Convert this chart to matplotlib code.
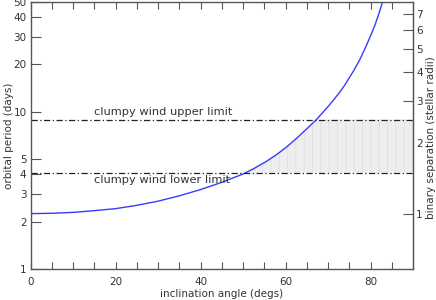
import numpy as np
import matplotlib
matplotlib.use("Agg")
import matplotlib.pyplot as plt
from matplotlib.ticker import FixedLocator, NullLocator, NullFormatter, FixedFormatter

# curve: inclination (deg) vs orbital period (days)
incl = [0, 5, 10, 15, 20, 25, 30, 35, 40, 45, 50, 52.5, 55, 57.5, 60, 62.5, 65,
        67.3, 70, 71.5, 72.8, 74, 75, 76.1, 77.5, 78.75, 80, 81, 82, 82.7, 83.2]
period = [2.25, 2.26, 2.29, 2.35, 2.42, 2.54, 2.70, 2.92, 3.20, 3.56, 4.02, 4.35,
          4.75, 5.25, 5.9, 6.75, 7.8, 8.95, 10.8, 12.1, 13.4, 14.9, 16.5, 18.4,
          21.6, 25.5, 30.5, 35.5, 42.5, 49.0, 54.5]

lower_limit = 4.1
upper_limit = 8.9
p0 = 2.25   # period at which separation = 1 stellar radius

left_ticks = [1, 2, 3, 4, 5, 10, 20, 30, 40, 50]
right_ticks = [1, 2, 3, 4, 5, 6, 7]

ink = "#333333"
plt.rcParams["font.family"] = ["DejaVu Sans"]
plt.rcParams["font.size"] = 7.5
plt.rcParams["hatch.linewidth"] = 0.6

fig = plt.figure(figsize=(4.36, 3.0), dpi=100)
ax = fig.add_axes([0.0704, 0.1033, 0.8773, 0.891])

incl = np.array(incl)
period = np.array(period)

# shaded region right of the curve, between the two limits
fx = np.append(incl, 90)
fy = np.append(np.minimum(period, upper_limit), upper_limit)
ax.fill_between(fx, lower_limit, fy, where=np.append(period, upper_limit) >= lower_limit,
                interpolate=True, facecolor="#eeeeee", edgecolor="#e0e0e0",
                hatch="||", linewidth=0)

ax.plot(incl, period, color="#3a3aff", lw=1.0)
ax.axhline(upper_limit, color="#222222", lw=0.9, ls=(0, (5, 2, 1, 2)))
ax.axhline(lower_limit, color="#222222", lw=0.9, ls=(0, (5, 2, 1, 2)))

ax.text(14.9, upper_limit * 1.04, "clumpy wind upper limit", color=ink,
        fontsize=8.2, va="bottom", ha="left")
ax.text(14.9, lower_limit / 1.04, "clumpy wind lower limit", color=ink,
        fontsize=8.2, va="top", ha="left")

ax.set_xlim(0, 90)
ax.set_yscale("log")
ax.set_ylim(1, 50)

ax.xaxis.set_major_locator(FixedLocator([0, 20, 40, 60, 80]))
ax.xaxis.set_minor_locator(FixedLocator(list(range(5, 90, 5))))
ax.yaxis.set_major_locator(FixedLocator(left_ticks))
ax.yaxis.set_major_formatter(FixedFormatter([str(t) for t in left_ticks]))
ax.yaxis.set_minor_locator(NullLocator())
ax.yaxis.set_minor_formatter(NullFormatter())

ax.tick_params(axis="x", which="both", direction="in", top=True, length=5,
               width=0.8, color="#555555", labelcolor=ink, pad=6)
ax.tick_params(axis="y", which="both", direction="in", right=False, length=7,
               width=0.8, color="#555555", labelcolor=ink, pad=3)
for s in ax.spines.values():
    s.set_color("#555555")
    s.set_linewidth(1.0)

ax.set_xlabel("inclination angle (degs)", color=ink, labelpad=1)
ax.set_ylabel("orbital period (days)", color=ink, va="center")
ax.yaxis.set_label_coords(-0.058, 0.5)

# right axis: binary separation from Kepler's third law
sec = ax.secondary_yaxis("right", functions=(lambda p: (np.maximum(p, 1e-9) / p0) ** (2 / 3),
                                             lambda a: p0 * np.maximum(a, 1e-9) ** 1.5))
sec.set_yscale("log")
sec.yaxis.set_major_locator(FixedLocator(right_ticks))
sec.yaxis.set_major_formatter(FixedFormatter([str(t) for t in right_ticks]))
sec.yaxis.set_minor_locator(NullLocator())
sec.yaxis.set_minor_formatter(NullFormatter())
sec.tick_params(axis="y", which="both", direction="in", length=7, width=0.8,
                color="#555555", labelcolor=ink, pad=2)
sec.spines["right"].set_color("#555555")
ax.text(1.046, 0.49, "binary separation (stellar radii)", color=ink, rotation=90,
        va="center", ha="center", transform=ax.transAxes, clip_on=False)

fig.savefig("out.png", dpi=100)
